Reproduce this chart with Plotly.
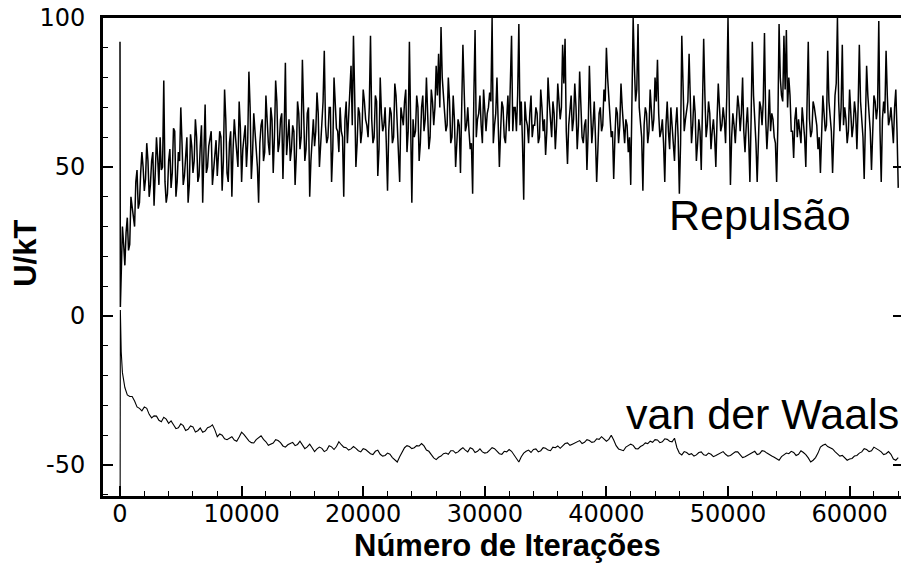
import plotly.graph_objects as go

# ---------------- data ----------------
# Repulsion: two early samples, then one sample every 100 iterations.
# rep_odd  -> iterations 100, 300, 500, ...
# rep_even -> iterations 200, 400, 600, ...
rep_start_x = [0, 30]
rep_start_y = [92, 3]
rep_step = 100
rep_odd = [
    14, 24, 28, 22, 40, 34, 45, 36, 48, 50,
    46, 52, 44, 55, 48, 53, 60, 50, 45, 41,
    56, 48, 62, 45, 52, 58, 47, 60, 44, 57,
    52, 60, 47, 64, 55, 48, 57, 62, 50, 59,
    54, 60, 52, 66, 45, 62, 56, 60, 50, 63,
    56, 64, 58, 70, 54, 62, 50, 58, 66, 55,
    64, 54, 66, 60, 72, 58, 68, 62, 54, 66,
    56, 62, 54, 68, 60, 64, 56, 70, 52, 66,
    62, 68, 58, 72, 64, 60, 70, 56, 68, 62,
    70, 60, 66, 58, 72, 64, 74, 58, 68, 62,
    72, 64, 70, 66, 60, 72, 56, 68, 64, 58,
    62, 68, 60, 74, 58, 70, 64, 76, 62, 60,
    66, 62, 70, 58, 74, 66, 68, 60, 72, 70,
    74, 70, 80, 68, 64, 72, 60, 66, 58, 64,
    70, 76, 64, 62, 58, 74, 60, 68, 64, 76,
    62, 70, 72, 58, 68, 64, 62, 70, 58, 74,
    78, 62, 70, 74, 64, 58, 72, 64, 68, 60,
    64, 68, 60, 70, 66, 62, 72, 60, 68, 64,
    72, 70, 78, 62, 64, 74, 66, 70, 64, 72,
    58, 66, 62, 70, 64, 60, 56, 70, 64, 72,
    80, 66, 62, 60, 68, 64, 70, 58, 64, 60,
    70, 84, 76, 70, 60, 64, 68, 62, 70, 66,
    72, 68, 62, 58, 64, 62, 70, 58, 64, 60,
    58, 78, 66, 72, 70, 64, 68, 58, 62, 70,
    74, 64, 68, 62, 60, 66, 70, 64, 66, 74,
    72, 60, 64, 66, 70, 68, 62, 64, 60, 66,
    74, 58, 62, 70, 72, 66, 64, 62, 66, 58,
    64, 80, 72, 76, 70, 74, 62, 66, 60, 62,
    70, 60, 70, 66, 62, 70, 64, 60, 62, 68,
    64, 72, 62, 64, 78, 72, 70, 64, 66, 62,
    68, 64, 68, 70, 72, 60, 64, 74, 62, 66,
    72, 70, 62, 66, 68, 74, 66, 64, 70, 62,
]
rep_even = [
    30, 17, 33, 24, 36, 30, 49, 38, 55, 42,
    58, 40, 52, 37, 60, 44, 49, 79, 38, 52,
    43, 63, 40, 55, 70, 44, 52, 38, 61, 48,
    66, 45, 57, 38, 71, 50, 60, 44, 55, 47,
    62, 42, 76, 48, 58, 40, 66, 53, 72, 45,
    60, 50, 82, 46, 68, 56, 38, 64, 52, 74,
    58, 70, 48, 79, 55, 66, 46, 85, 60, 52,
    64, 44, 72, 56, 86, 52, 68, 40, 62, 57,
    75, 50, 66, 89, 58, 70, 45, 80, 63, 55,
    62, 40, 72, 68, 84, 94, 50, 70, 58, 76,
    66, 60, 94, 58, 74, 47, 80, 62, 70, 42,
    70, 58, 78, 64, 45, 66, 72, 55, 92, 38,
    60, 74, 52, 70, 62, 80, 56, 76, 64, 84,
    88, 97, 72, 62, 80, 58, 74, 50, 66, 48,
    91, 62, 70, 56, 41, 96, 66, 74, 58, 70,
    68, 75, 100, 64, 80, 50, 72, 60, 66, 62,
    94, 70, 62, 98, 72, 39, 66, 58, 74, 64,
    70, 58, 76, 62, 54, 80, 66, 72, 56, 78,
    66, 91, 93, 51, 70, 62, 78, 56, 82, 60,
    64, 49, 84, 58, 72, 45, 68, 62, 76, 90,
    74, 60, 46, 70, 58, 78, 62, 66, 55, 44,
    100, 72, 98, 64, 42, 70, 58, 76, 62, 80,
    86, 60, 66, 45, 72, 56, 64, 52, 70, 41,
    94, 62, 70, 88, 58, 74, 52, 66, 49, 93,
    60, 72, 56, 66, 50, 78, 62, 70, 58, 100,
    44, 68, 58, 74, 62, 80, 55, 70, 45, 92,
    66, 45, 72, 64, 95, 56, 76, 68, 60, 45,
    98, 74, 94, 96, 80, 62, 53, 70, 66, 58,
    64, 50, 92, 60, 72, 66, 56, 48, 74, 62,
    89, 66, 48, 74, 100, 62, 91, 70, 58, 76,
    60, 72, 56, 91, 64, 46, 84, 68, 49, 74,
    66, 99, 45, 72, 89, 64, 70, 58, 76, 43,
]

# van der Waals: early samples, then one sample every 200 iterations.
# vdw_odd  -> iterations 200, 600, 1000, ...
# vdw_even -> iterations 400, 800, 1200, ...
vdw_start_x = [0, 30, 100]
vdw_start_y = [-100, 2, -12]
vdw_step = 200
vdw_odd = [
    -19, -26.5, -27, -30.5, -31.8, -31, -34.2, -33.6, -35.5, -34.6,
    -35.2, -37.8, -36.2, -38.4, -36.9, -38.9, -37.6, -38.6, -37.2, -38.2,
    -39.6, -41.2, -40.9, -41.6, -40.6, -39.8, -41.9, -42.6, -40.8, -41.4,
    -43.4, -42.6, -41.8, -43.6, -43.2, -42.4, -43.1, -43.4, -43.9, -44.2,
    -44.6, -44.4, -45, -43.9, -43.8, -43.2, -44.2, -44.6, -44.4, -45.6,
    -44.8, -46.2, -45.4, -46.4, -46.8, -46.4, -48.4, -47.2, -44.2, -43.8,
    -44.2, -43.6, -43.6, -45.4, -47.6, -47.4, -46.2, -46.4, -45.2, -45.6,
    -44.2, -45.6, -44.6, -45.4, -45.6, -45.8, -44.2, -45.4, -46.4, -45.6,
    -45.4, -47.6, -47.2, -45.4, -45.8, -44.6, -45.2, -44.4, -45.2, -44.2,
    -44.4, -42.8, -43.4, -42.6, -41.8, -42.4, -41.8, -42.2, -41.4, -41.2,
    -41.4, -41.6, -44.6, -45.2, -43.6, -43.4, -44.6, -43.4, -42.8, -42.4,
    -41.6, -42.2, -41.4, -42.2, -44.2, -46.6, -45.8, -46.2, -46.6, -45.6,
    -46.8, -46.4, -46.8, -45.8, -46.4, -46.8, -45.6, -46.4, -47.2, -46.4,
    -45.4, -46.2, -45.4, -46.6, -47.4, -48.4, -46.6, -46.2, -45.8, -46.4,
    -45.8, -47.6, -48.4, -46, -43.4, -43.8, -44.6, -46.4, -46.8, -48.4,
    -47.8, -46.8, -45.6, -44.8, -45.2, -44.4, -45.6, -46.2, -46.4, -48.4,
]
vdw_even = [
    -24, -27, -28.5, -31, -30.5, -33, -33.5, -35, -34, -36,
    -36.5, -37.5, -36.8, -38, -37.2, -38.5, -39, -37.5, -36.5, -40.5,
    -40, -41.5, -40.5, -42, -39, -40.8, -42.5, -41.5, -40.2, -42.2,
    -43, -41.5, -42.5, -44, -42.8, -43.5, -42, -44.5, -43, -45.5,
    -44, -45.5, -43.5, -44.8, -42.2, -44, -45, -43.8, -45.2, -44.5,
    -45.5, -46.5, -45, -47, -46, -47.5, -49, -45.5, -43.5, -44.5,
    -43.5, -42.8, -45, -46.5, -48.2, -47, -46, -45.2, -46, -44.8,
    -45, -44.2, -45.8, -44.6, -46, -45, -44.5, -46.2, -45.4, -44.8,
    -46.5, -49, -46, -45, -44.8, -45.6, -44.2, -45, -44, -43.6,
    -43.5, -42.6, -43, -42, -42.8, -41.5, -42.4, -41.2, -40.5, -42,
    -40, -43.5, -45, -44, -43, -44.5, -43.8, -42.6, -42, -41.5,
    -42.5, -41.2, -42, -41, -46, -45.5, -46.5, -47, -45.8, -46.6,
    -46, -47.2, -46.4, -45.5, -47, -46.2, -45.6, -47.5, -46.8, -45.8,
    -46.5, -45.2, -46, -47, -48, -47.2, -46, -45.4, -46.8, -45.2,
    -46.5, -49, -47.5, -44, -43, -44.2, -45.5, -47, -47.8, -48,
    -47, -46, -44.5, -45.5, -44, -45, -46.5, -45.5, -48, -47.5,
]

labels = ["Repulsão", "van der Waals"]
x_title = "Número de Iterações"
y_title = "U/kT"
x_tickvals = [0, 10000, 20000, 30000, 40000, 50000, 60000]
x_ticktext = ["0", "10000", "20000", "30000", "40000", "50000", "60000"]
y_tickvals = [-50, 0, 50, 100]
y_ticktext = ["-50", "0", "50", "100"]

# ---------------- build ----------------
rep_seq = [v for pair in zip(rep_odd, rep_even) for v in pair]
rep_x = rep_start_x + [rep_step * (i + 1) for i in range(len(rep_seq))]
rep_y = rep_start_y + rep_seq
vdw_seq = [v for pair in zip(vdw_odd, vdw_even) for v in pair]
vdw_x = vdw_start_x + [vdw_step * (i + 1) for i in range(len(vdw_seq))]
vdw_y = vdw_start_y + vdw_seq

fig = go.Figure()
fig.add_trace(go.Scatter(x=rep_x, y=rep_y, mode="lines",
                         line=dict(color="black", width=1.5), showlegend=False))
fig.add_trace(go.Scatter(x=vdw_x, y=vdw_y, mode="lines",
                         line=dict(color="black", width=1.1), showlegend=False))
# empty trace on the right-hand mirror axis (for its inside major ticks)
fig.add_trace(go.Scatter(x=[], y=[], yaxis="y2", showlegend=False))

tickfont = dict(family="DejaVu Sans", size=24, color="black")

fig.update_layout(
    width=901, height=564,
    margin=dict(l=103, r=0, t=18, b=68),
    paper_bgcolor="white", plot_bgcolor="white",
    xaxis=dict(range=[-1398, 64227], showgrid=False, zeroline=False,
               showline=True, linecolor="black", linewidth=3, mirror=True,
               ticks="inside", ticklen=10, tickwidth=2, tickcolor="black",
               tickmode="array", tickvals=x_tickvals, ticktext=x_ticktext,
               tickfont=tickfont, ticklabelstandoff=-6,
               minor=dict(dtick=2000, tick0=0, ticks="inside", ticklen=5, tickwidth=1,
                          tickcolor="black", showgrid=False)),
    yaxis=dict(range=[-60.4, 100], showgrid=False, zeroline=False,
               showline=True, linecolor="black", linewidth=3, mirror=False,
               ticks="inside", ticklen=10, tickwidth=2, tickcolor="black",
               tickmode="array", tickvals=y_tickvals, ticktext=y_ticktext,
               tickfont=tickfont, ticklabelstandoff=10,
               minor=dict(dtick=10, tick0=0, ticks="inside", ticklen=5, tickwidth=1,
                          tickcolor="black", showgrid=False)),
    yaxis2=dict(overlaying="y", side="right", matches="y", range=[-60.4, 100],
                showgrid=False, zeroline=False, showline=False,
                ticks="inside", ticklen=8, tickwidth=2, tickcolor="black",
                tickmode="array", tickvals=y_tickvals, showticklabels=False),
    annotations=[
        dict(text=labels[0], x=44950, y=34, xref="x", yref="y",
             xanchor="left", yanchor="middle", showarrow=False,
             font=dict(family="Liberation Sans", size=43, color="black")),
        dict(text=labels[1], x=64200, y=-33, xref="x", yref="y",
             xanchor="right", yanchor="middle", showarrow=False,
             font=dict(family="Liberation Sans", size=43, color="black")),
        dict(text="<b>" + x_title + "</b>", x=0.5075, y=-0.104, xref="paper", yref="paper",
             xanchor="center", yanchor="middle", showarrow=False,
             font=dict(family="Liberation Sans", size=31, color="black")),
        dict(text="<b>" + y_title + "</b>", x=-0.097, y=0.508, xref="paper", yref="paper",
             xanchor="center", yanchor="middle", showarrow=False, textangle=-90,
             font=dict(family="Liberation Sans", size=31, color="black")),
    ],
)

fig.write_html("out.html", config={"displayModeBar": False},
               post_script="document.body.style.margin='0';document.body.style.overflow='hidden';")
